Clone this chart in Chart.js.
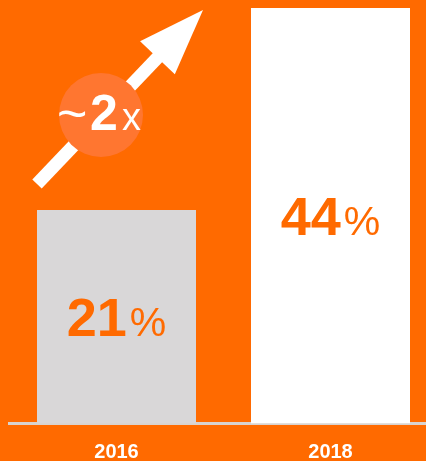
<!DOCTYPE html>
<html>
<head>
<meta charset="utf-8">
<script src="https://cdn.jsdelivr.net/npm/chart.js@4/dist/chart.umd.min.js"></script>
<style>
  html, body { margin: 0; padding: 0; background: #FF6A00; overflow: hidden; width: 426px; height: 461px; }
  #wrap { position: absolute; left: 0; top: 0; width: 440px; height: 461px; }
</style>
</head>
<body>
<div id="wrap"><canvas id="c" width="440" height="461"></canvas></div>
<script>
// ---- data ----
const categories = ['2016', '2018'];
const shareValues = [21, 44];
const barColors = ['#D9D7D8', '#FFFFFF'];
const growthLabel = ['~', '2', 'x'];

const Y_MIN = -3.31;
const Y_MAX = 44.91;
const ORANGE = '#FF6A00';
const FONT = '"Liberation Sans", Arial, sans-serif';

const valueLabelPlugin = {
  id: 'valueLabels',
  afterDatasetsDraw(chart) {
    const ctx = chart.ctx;
    const meta = chart.getDatasetMeta(0);
    meta.data.forEach((bar, i) => {
      const num = String(shareValues[i]);
      const mid = (bar.y + Math.min(bar.base, 422)) / 2;
      ctx.save();
      ctx.fillStyle = ORANGE;
      ctx.textBaseline = 'alphabetic';
      ctx.textAlign = 'left';
      ctx.font = 'bold 54px ' + FONT;
      const w1 = ctx.measureText(num).width;
      ctx.font = '41px ' + FONT;
      const w2 = ctx.measureText('%').width;
      const gap = 3;
      const start = bar.x - (w1 + gap + w2) / 2;
      ctx.font = 'bold 54px ' + FONT;
      ctx.fillText(num, start, mid + 20);
      ctx.font = '41px ' + FONT;
      ctx.fillText('%', start + w1 + gap, mid + 20);
      ctx.restore();
    });
  }
};

const arrowPlugin = {
  id: 'growthArrow',
  afterDatasetsDraw(chart) {
    const ctx = chart.ctx;
    ctx.save();
    const tail = {x: 37, y: 184};
    const tip = {x: 203, y: 10};
    const dx = tip.x - tail.x, dy = tip.y - tail.y;
    const len = Math.hypot(dx, dy);
    const ux = dx / len, uy = dy / len;
    const px = -uy, py = ux;
    const headLen = 66, headHalf = 24, shaftHalf = 6.5;
    const bx = tip.x - ux * headLen, by = tip.y - uy * headLen;
    ctx.fillStyle = '#FFFFFF';
    ctx.beginPath();
    ctx.moveTo(tail.x + px * shaftHalf, tail.y + py * shaftHalf);
    ctx.lineTo(bx + ux * 2 + px * shaftHalf, by + uy * 2 + py * shaftHalf);
    ctx.lineTo(bx + ux * 2 - px * shaftHalf, by + uy * 2 - py * shaftHalf);
    ctx.lineTo(tail.x - px * shaftHalf, tail.y - py * shaftHalf);
    ctx.closePath();
    ctx.fill();
    ctx.beginPath();
    ctx.moveTo(tip.x, tip.y);
    ctx.lineTo(bx + px * headHalf, by + py * headHalf);
    ctx.lineTo(bx - px * headHalf, by - py * headHalf);
    ctx.closePath();
    ctx.fill();
    ctx.fillStyle = '#FF7630';
    ctx.beginPath();
    ctx.arc(101, 115, 42, 0, Math.PI * 2);
    ctx.fill();
    ctx.fillStyle = '#FFFFFF';
    ctx.textBaseline = 'alphabetic';
    ctx.textAlign = 'left';
    ctx.font = '52px ' + FONT;
    ctx.fillText(growthLabel[0], 57, 131);
    ctx.font = 'bold 50px ' + FONT;
    ctx.fillText(growthLabel[1], 90, 130);
    ctx.font = '38px ' + FONT;
    ctx.fillText(growthLabel[2], 122, 130);
    ctx.restore();
  }
};

new Chart(document.getElementById('c'), {
  type: 'bar',
  data: {
    labels: categories,
    datasets: [{
      data: shareValues,
      backgroundColor: barColors,
      borderWidth: 0,
      base: Y_MIN,
      barPercentage: 1,
      categoryPercentage: 0.743
    }]
  },
  options: {
    responsive: false,
    animation: false,
    layout: { padding: { left: 9.5, right: 2.5, top: 0, bottom: 0 } },
    plugins: { legend: { display: false }, tooltip: { enabled: false } },
    scales: {
      x: {
        z: 1,
        grid: { display: false, drawTicks: false },
        border: { display: true, color: '#D8D3CF', width: 3 },
        ticks: { color: '#FFFFFF', font: { family: FONT, size: 20, weight: 'bold' }, padding: 16.5 },
        afterFit(scale) { scale.height = 37.5; }
      },
      y: {
        display: false,
        min: Y_MIN,
        max: Y_MAX
      }
    }
  },
  plugins: [valueLabelPlugin, arrowPlugin]
});
</script>
</body>
</html>
